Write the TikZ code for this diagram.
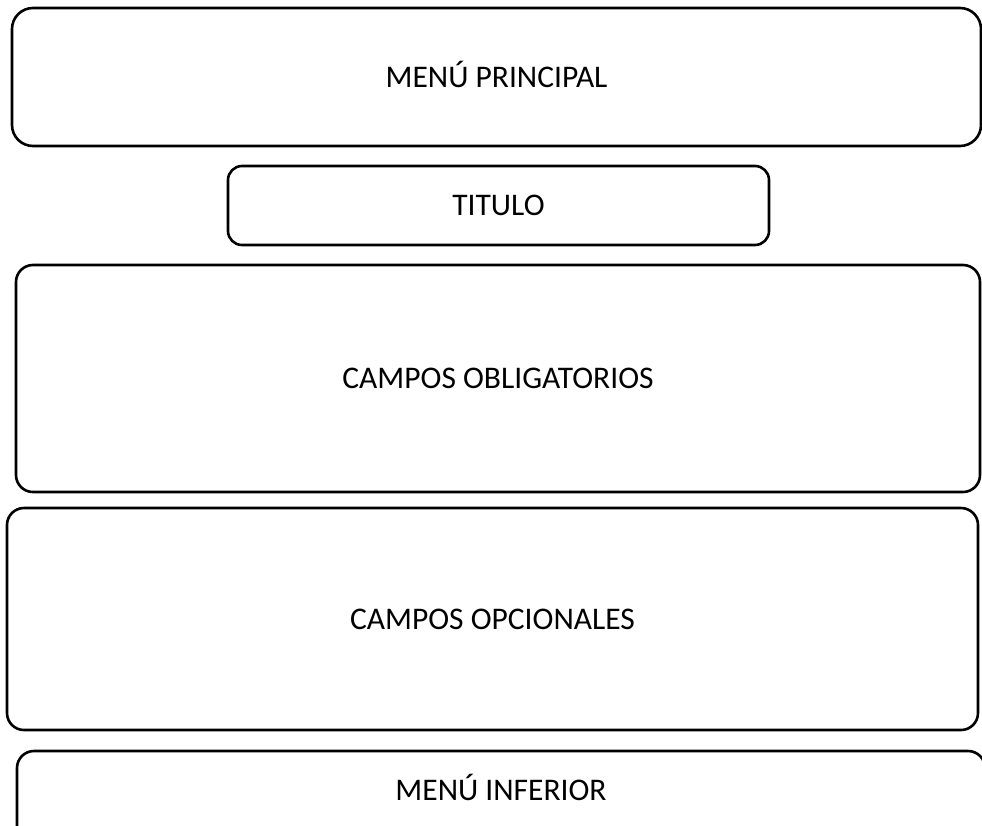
\documentclass[tikz,border=0pt]{standalone}
\usepackage{fontspec}
\setmainfont{Carlito}
\usepackage{tikz}
\usetikzlibrary{positioning}

\begin{document}
\begin{tikzpicture}[x=1pt,y=-1pt,
every node/.style={draw,line width=2.6pt,rounded corners=17pt,inner sep=0pt,font=\fontsize{31.5}{31.5}\selectfont,text height=20pt,text depth=0pt,align=center}]
\clip (0,0) rectangle (982,825);
\node[minimum width=969pt,minimum height=138pt,rounded corners=21pt] (menu) at (496.5,77) {MENÚ PRINCIPAL};
\node[minimum width=541pt,minimum height=79pt,rounded corners=14pt] (titulo) at (498.5,205.5) {TITULO};
\node[minimum width=964pt,minimum height=227pt] (oblig) at (498,378.5) {CAMPOS OBLIGATORIOS};
\node[minimum width=971pt,minimum height=222pt] (opcion) at (492.5,619) {CAMPOS OPCIONALES};
\node[minimum width=968pt,minimum height=110pt,text depth=32pt] (inferior) at (501,806) {MENÚ INFERIOR};
\end{tikzpicture}
\end{document}
